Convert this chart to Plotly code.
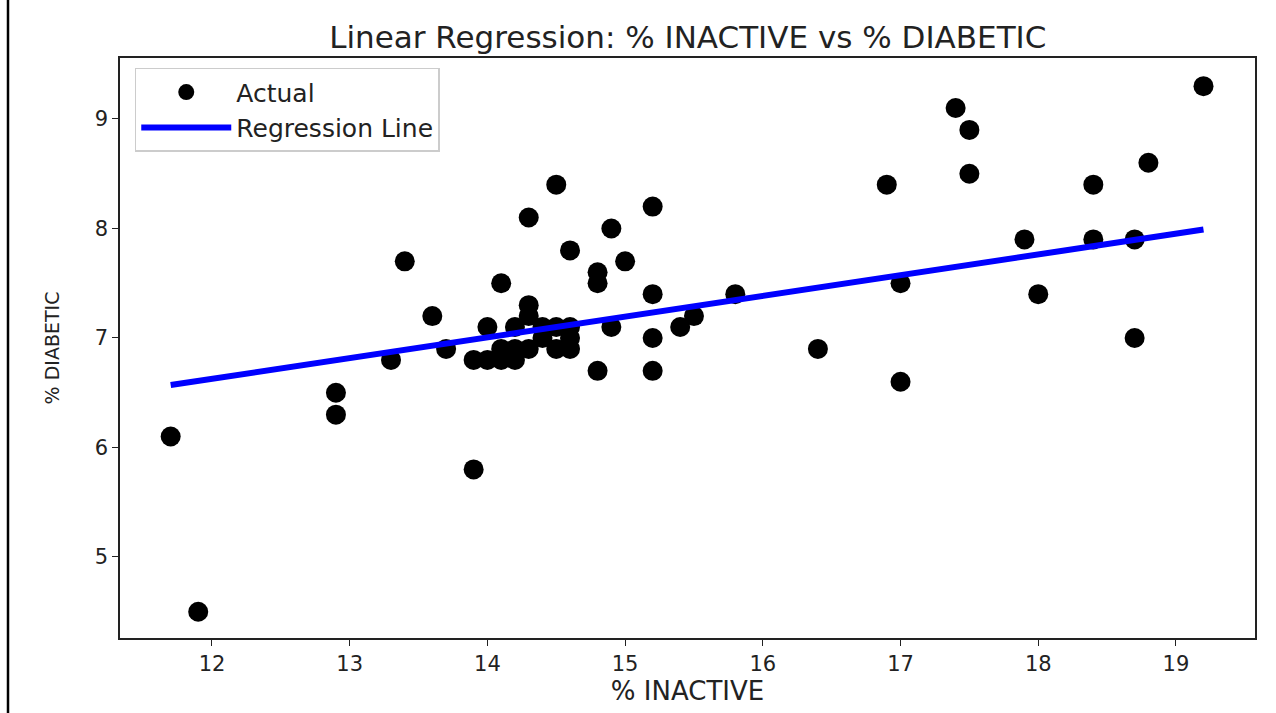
import plotly.graph_objects as go

inactive = [11.7, 11.9, 12.9, 12.9, 13.3, 13.4, 13.6, 13.7, 13.9, 13.9,
            14.0, 14.0, 14.1, 14.1, 14.1, 14.2, 14.2, 14.2, 14.3, 14.3,
            14.3, 14.3, 14.4, 14.4, 14.5, 14.5, 14.5, 14.6, 14.6, 14.6,
            14.6, 14.8, 14.8, 14.8, 14.9, 14.9, 15.0, 15.2, 15.2, 15.2,
            15.2, 15.4, 15.5, 15.8, 16.4, 16.9, 17.0, 17.0, 17.4, 17.5,
            17.5, 17.9, 18.0, 18.4, 18.4, 18.7, 18.7, 18.8, 19.2]
diabetic = [6.1, 4.5, 6.5, 6.3, 6.8, 7.7, 7.2, 6.9, 6.8, 5.8,
            7.1, 6.8, 7.5, 6.9, 6.8, 7.1, 6.8, 6.9, 8.1, 7.3,
            7.2, 6.9, 7.0, 7.1, 8.4, 7.1, 6.9, 7.8, 7.1, 7.0,
            6.9, 7.6, 7.5, 6.7, 8.0, 7.1, 7.7, 8.2, 7.4, 7.0,
            6.7, 7.1, 7.2, 7.4, 6.9, 8.4, 7.5, 6.6, 9.1, 8.9,
            8.5, 7.9, 7.4, 8.4, 7.9, 7.9, 7.0, 8.6, 9.3]
reg_x = [11.7, 19.2]
reg_y = [6.57, 7.99]

x_ticks = [12, 13, 14, 15, 16, 17, 18, 19]
y_ticks = [5, 6, 7, 8, 9]

fig = go.Figure()
fig.add_trace(go.Scatter(x=inactive, y=diabetic, mode="markers", name="Actual",
                         marker=dict(color="black", size=20, line=dict(width=0))))
fig.add_trace(go.Scatter(x=reg_x, y=reg_y, mode="lines", name="Regression Line",
                         line=dict(color="blue", width=6)))

axis_common = dict(showline=True, linecolor="#222", linewidth=1.5, mirror=True,
                   ticks="outside", ticklen=6, tickcolor="#222", showgrid=False,
                   zeroline=False)

fig.update_layout(
    width=1276, height=713,
    margin=dict(l=120, r=21, t=58, b=75),
    paper_bgcolor="white", plot_bgcolor="white",
    font=dict(family="DejaVu Sans", color="#222"),
    title=dict(text="Linear Regression: % INACTIVE vs % DIABETIC",
               x=0.539, xanchor="center", y=1 - 37 / 713, yanchor="middle",
               yref="container", font=dict(size=31, family="DejaVu Sans", color="#222")),
    xaxis=dict(range=[11.332, 19.574], tickvals=x_ticks,
               tickfont=dict(size=21, family="DejaVu Sans"),
               title=dict(text="% INACTIVE", standoff=6,
                          font=dict(size=26, family="DejaVu Sans")),
               **axis_common),
    yaxis=dict(range=[4.26, 9.557], tickvals=y_ticks,
               tickfont=dict(size=21, family="DejaVu Sans"),
               title=dict(text="% DIABETIC", standoff=30,
                          font=dict(size=19, family="DejaVu Sans")),
               **axis_common),
    legend=dict(x=0.013, y=0.983, xanchor="left", yanchor="top",
                bgcolor="rgba(255,255,255,0.8)", bordercolor="#ccc", borderwidth=1.5,
                font=dict(size=25, family="DejaVu Sans", color="#222"),
                itemwidth=90, tracegroupgap=2),
    showlegend=True,
)

fig.add_shape(type="line", xref="paper", yref="paper",
              x0=-112 / 1135, x1=-112 / 1135, y0=-75 / 580, y1=1 + 58 / 580,
              line=dict(color="black", width=2.5))

fig.write_html("out.html")
